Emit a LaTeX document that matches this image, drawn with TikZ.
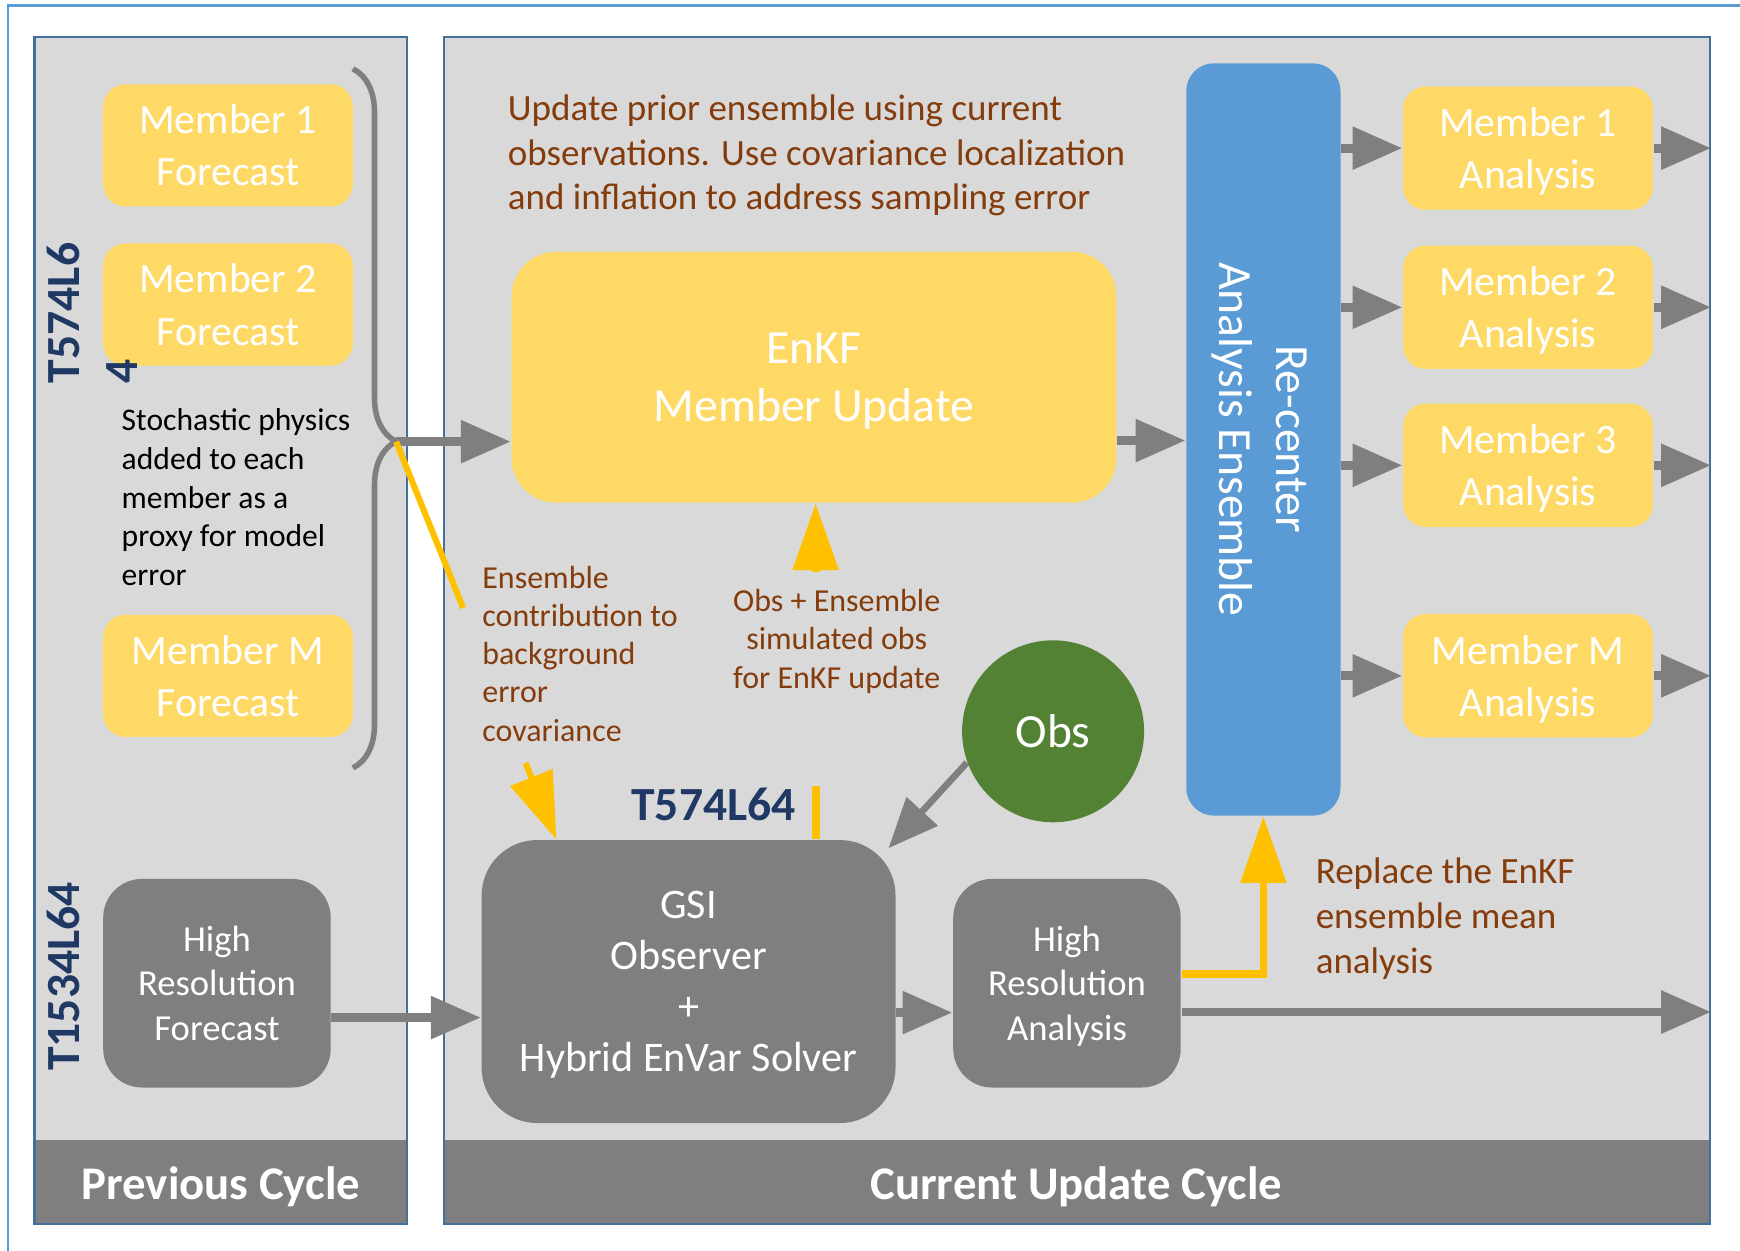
\documentclass[tikz,border=0pt]{standalone}
\usepackage{fontspec}
\setmainfont{Carlito}
\usepackage{tikz}
\usetikzlibrary{arrows.meta,positioning,calc,decorations.pathreplacing}
\definecolor{frameblue}{HTML}{5B9BD5}
\definecolor{panelline}{HTML}{41719C}
\definecolor{panelgray}{HTML}{D9D9D9}
\definecolor{bandgray}{HTML}{7F7F7F}
\definecolor{memyellow}{HTML}{FFD966}
\definecolor{arryellow}{HTML}{FFC000}
\definecolor{recenterblue}{HTML}{5B9BD5}
\definecolor{obsgreen}{HTML}{548235}
\definecolor{notebrown}{HTML}{843C0C}
\definecolor{tagnavy}{HTML}{1F3864}
\newcommand{\fsz}[2]{\fontsize{#1}{#2}\selectfont}

\begin{document}
\begin{tikzpicture}[
    x=0.1mm,y=-0.1mm,
    every node/.style={align=center,inner sep=0pt},
    panel/.style={draw=panelline,line width=0.2mm,fill=panelgray,minimum height=107mm,
                  path picture={\fill[bandgray] (path picture bounding box.south west)
                                rectangle ([yshift=7.6mm]path picture bounding box.south east);}},
    bandtext/.style={text=white,font=\fsz{12}{14.4}\bfseries},
    member/.style={fill=memyellow,rounded corners=2mm,text=white,minimum width=22.5mm,
                   minimum height=11mm,text depth=-1.3pt,font=\fsz{10.7}{13.4}},
    hires/.style={fill=bandgray,rounded corners=3.5mm,text=white,minimum width=20.5mm,
                  minimum height=18.8mm,text depth=-0.5pt,font=\fsz{9.4}{11.5}},
    note/.style={text=notebrown,align=left},
    tag/.style={text=tagnavy,font=\fsz{12.2}{14.8}\bfseries},
    garr/.style={-{Triangle[length=4.5mm,width=3.7mm]},line width=0.8mm,draw=bandgray},
    yarr/.style={-{Triangle[length=6mm,width=4mm]},line width=0.7mm,draw=arryellow},
    yline/.style={line width=0.7mm,draw=arryellow}
]
\useasboundingbox (0,0) rectangle (1568,1127);
\draw[frameblue,line width=0.2mm] (1568,5) -- (7,5) -- (7,1127);

\node[panel,minimum width=33.6mm] (prev) at (199,568) {};
\node[panel,minimum width=114.1mm] (cur) at (970.5,568) {};
\node[bandtext] (prevlbl) at (199,1069) {Previous Cycle};
\node[bandtext] (curlbl) at (970,1069) {Current Update Cycle};

\node[member] (fc1) at (205.5,131) {Member 1\\Forecast};
\node[member,below=3.2mm of fc1] (fc2) {Member 2\\Forecast};
\node[member] (fcm) at (205.5,609) {Member M\\Forecast};
\node[tag,rotate=90,align=left] (enstag) at (83,282) {T574L6\\4};
\node[anchor=west,align=left,font=\fsz{8.1}{9.9}] (stoch) at (109,448)
    {Stochastic physics\\added to each\\member as a\\proxy for model\\error};
\node[hires] (hrf) at (195.5,886) {High\\Resolution\\Forecast};
\node[tag,rotate=90] (hirestag) at (57,880) {T1534L64};

\node[note,anchor=west,font=\fsz{9.5}{11.4}] (upnote) at (457,140)
    {Update prior ensemble using current\\observations. Use covariance localization\\and inflation to address sampling error};
\node[fill=memyellow,rounded corners=4mm,text=white,minimum width=54.5mm,minimum height=22.6mm,
      text depth=-0.8pt,font=\fsz{12.2}{14.8}] (enkf) at (733.5,340) {EnKF\\Member Update};
\node[fill=recenterblue,rounded corners=2.5mm,text=white,rotate=-90,minimum width=67.8mm,
      minimum height=13.9mm,text depth=-0.3pt,font=\fsz{12.2}{14.8}] (rc) at (1138.5,396)
    {Re-center\\Analysis Ensemble};
\node[member,minimum height=11.1mm] (ma1) at (1377,133.5) {Member 1\\Analysis};
\node[member,minimum height=11.1mm,below=3.1mm of ma1] (ma2) {Member 2\\Analysis};
\node[member,minimum height=11.1mm,below=3mm of ma2] (ma3) {Member 3\\Analysis};
\node[member,minimum height=11.1mm] (mam) at (1377,609) {Member M\\Analysis};

\node[note,anchor=west,font=\fsz{8.2}{9.8}] (ensnote) at (434,589)
    {Ensemble\\contribution to\\background\\error\\covariance};
\node[note,align=center,font=\fsz{8.2}{9.8}] (obsnote) at (754,578)
    {Obs + Ensemble\\simulated obs\\for EnKF update};
\node[circle,fill=obsgreen,text=white,minimum size=16.4mm,font=\fsz{12.2}{14.8}] (obs) at (949,659) {Obs};
\node[tag] (lowtag) at (643,725) {T574L64};
\node[fill=bandgray,rounded corners=5mm,text=white,minimum width=37.3mm,minimum height=25.5mm,
      text depth=-0.5pt,font=\fsz{10.8}{13.1}] (gsi) at (620.5,884.5) {GSI\\Observer\\+\\Hybrid EnVar Solver};
\node[hires] (hra) at (961.5,886) {High\\Resolution\\Analysis};
\node[note,anchor=west,font=\fsz{9.5}{11.5}] (repnote) at (1185,828)
    {Replace the EnKF\\ensemble mean\\analysis};

\draw[bandgray,line width=0.5mm,decorate,decoration={brace,amplitude=3.9mm,aspect=0.533}]
    (318,62) -- (318,692);
\coordinate (btip) at (357,398);
\coordinate (gsitop) at ($(gsi.north west)+(68,0)$);
\draw[garr] (btip) -- (btip -| enkf.west);
\draw[yline,line width=0.55mm] (btip) -- ($(btip)!0.418!(gsitop)$);
\draw[yarr,line width=0.55mm] ($(btip)!0.808!(gsitop)$) -- (gsitop);

\draw[garr] ([yshift=-5.7mm]enkf.east) -- ([yshift=-5.7mm]enkf.east -| rc.south);
\foreach \m in {ma1,ma2,ma3,mam}{
  \draw[garr] (\m.west -| rc.north) -- (\m.west);
  \draw[garr] (\m.east) -- (\m.east -| cur.east);
}
\draw[garr] ([yshift=-3.1mm]hrf.east) -- ([yshift=-3.1mm]hrf.east -| gsi.west);
\draw[garr] ([yshift=-2.8mm]gsi.east) -- ([yshift=-2.8mm]gsi.east -| hra.west);
\draw[garr] ([yshift=-2.6mm]hra.east) -- ([yshift=-2.6mm]hra.east -| cur.east);
\draw[garr,line width=0.6mm] (obs.200) -- ($(gsi.north east)+(-7,8)$);

\coordinate (og1) at (735,515);
\coordinate (og2) at (735,708);
\draw[yarr] (og1) -- (og1 |- enkf.south);
\draw[yline] (og2) -- (og2 |- gsi.north);
\draw[yarr] ([yshift=0.8mm]hra.east) -| (rc.east);
\end{tikzpicture}
\end{document}
